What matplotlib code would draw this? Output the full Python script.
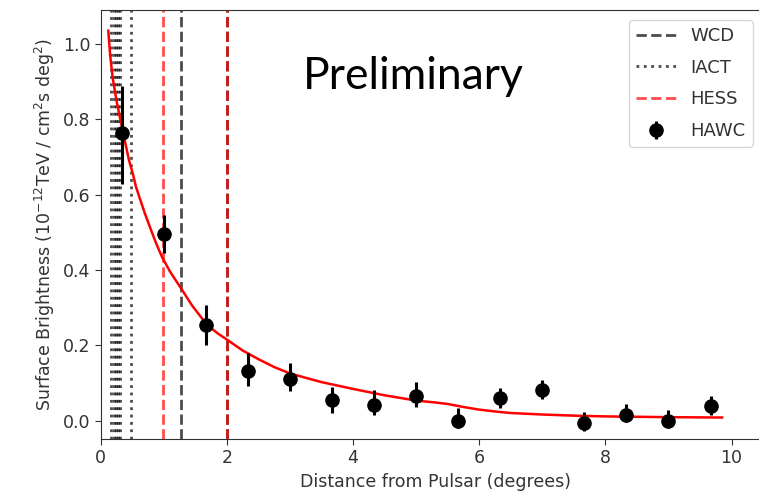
import matplotlib
matplotlib.use("Agg")
import matplotlib.pyplot as plt

# HAWC surface brightness points
hawc_x = [0.333, 1.0, 1.667, 2.333, 3.0, 3.667, 4.333, 5.0, 5.667, 6.333, 7.0, 7.667, 8.333, 9.0, 9.667]
hawc_y = [0.763, 0.495, 0.253, 0.132, 0.111, 0.054, 0.042, 0.064, 0.0, 0.059, 0.080, -0.006, 0.016, 0.0, 0.038]
hawc_err_lo = [0.135, 0.050, 0.053, 0.039, 0.033, 0.034, 0.028, 0.028, 0.020, 0.025, 0.024, 0.022, 0.020, 0.020, 0.022]
hawc_err_hi = [0.125, 0.050, 0.054, 0.048, 0.043, 0.036, 0.039, 0.038, 0.034, 0.027, 0.027, 0.028, 0.028, 0.029, 0.027]

# fitted profile (red curve)
fit_x = [0.12, 0.15, 0.19, 0.25, 0.31, 0.36, 0.45, 0.51, 0.56, 0.62, 0.70, 0.80, 0.88, 0.97,
         1.10, 1.27, 1.45, 1.68, 1.85, 2.0, 2.25, 2.5, 2.75, 3.0, 3.5, 4.0, 4.5, 5.0, 5.3,
         5.5, 5.75, 6.0, 6.25, 6.5, 7.0, 7.5, 8.0, 9.0, 9.85]
fit_y = [1.035, 0.97, 0.91, 0.85, 0.80, 0.76, 0.69, 0.655, 0.62, 0.59, 0.55, 0.505, 0.47, 0.435,
         0.395, 0.352, 0.305, 0.255, 0.232, 0.215, 0.186, 0.163, 0.142, 0.125, 0.102, 0.084, 0.067,
         0.053, 0.048, 0.044, 0.036, 0.029, 0.024, 0.020, 0.016, 0.013, 0.011, 0.009, 0.008]

# extent markers
wcd_x = [1.27, 2.0]
iact_x = [0.17, 0.21, 0.24, 0.27, 0.31, 0.48]
hess_x = [0.98, 2.0]

fig = plt.figure(figsize=(7.59, 4.99), dpi=100)
ax = fig.add_axes([100.7 / 759, 60 / 499, 670 / 759, 429 / 499])

for i, x in enumerate(wcd_x):
    ax.axvline(x, color="black", ls="--", lw=2, alpha=0.7, label="WCD" if i == 0 else None)
for i, x in enumerate(iact_x):
    ax.axvline(x, color="black", ls=":", lw=2, alpha=0.7, label="IACT" if i == 0 else None)
for i, x in enumerate(hess_x):
    ax.axvline(x, color="red", ls="--", lw=2, alpha=0.7, label="HESS" if i == 0 else None)

ax.plot(fit_x, fit_y, color="red", lw=1.8)
ax.errorbar(hawc_x, hawc_y, yerr=[hawc_err_lo, hawc_err_hi], fmt="o", color="black",
            ms=9.5, elinewidth=2.2, capsize=0, label="HAWC")

ax.set_xlim(0, 10.62)
ax.set_ylim(-0.049, 1.09)
ax.set_xticks([0, 2, 4, 6, 8, 10])
ax.set_yticks([0.0, 0.2, 0.4, 0.6, 0.8, 1.0])
ax.tick_params(labelsize=12.5, colors="#333333", length=4)
for s in ax.spines.values():
    s.set_color("#333333")

ax.set_xlabel("Distance from Pulsar (degrees)", fontsize=12.5, color="#333333")
ax.set_ylabel(r"Surface Brightness ($10^{-12}$TeV / cm$^2$s deg$^2$)", fontsize=12.5, color="#333333")

leg = ax.legend(loc="upper right", bbox_to_anchor=(753 / 759, 1 - 20 / 499),
                bbox_transform=fig.transFigure, borderaxespad=0, fontsize=13,
                labelspacing=0.75, handlelength=2.2, fancybox=True, framealpha=0.8)
for t in leg.get_texts():
    t.set_color("#333333")

fig.text(303 / 759, 1 - 89 / 499, "Preliminary", fontsize=32, family="Lato", color="black")

fig.savefig("out.png", dpi=100)
